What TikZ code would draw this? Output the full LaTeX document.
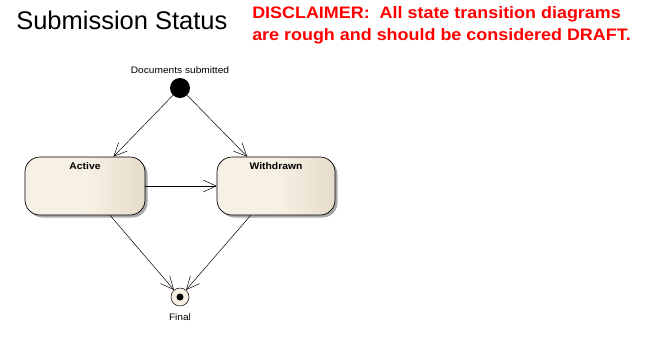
\documentclass[tikz,border=0pt]{standalone}
\usepackage{fontspec}
\setmainfont{Liberation Sans}
\newfontfamily\widesans{Liberation Sans}[FakeStretch=1.08]
\usetikzlibrary{arrows.meta,positioning,shadows}

\definecolor{cream}{HTML}{F7F0E4}
\definecolor{creamdark}{HTML}{E6DCCB}
\definecolor{shadowgrey}{HTML}{A8A8A8}

\begin{document}
\begin{tikzpicture}[x=1bp,y=-1bp,on grid,
>={Straight Barb[length=13bp,width=12bp]},line width=0.5bp,
statebox/.style={draw,line width=0.7bp,rounded corners=15bp,
    minimum width=120bp,inner sep=4bp,text height=8bp,text depth=42bp,
    left color=cream,right color=creamdark,middle color=cream,
    drop shadow={shadow xshift=2.5bp,shadow yshift=-2.5bp,fill=shadowgrey,opacity=1},
    font=\widesans\fontsize{9.6bp}{11bp}\selectfont\bfseries},
initdot/.style={circle,fill=black,minimum size=20bp,inner sep=0pt},
finaldot/.style={circle,draw,fill=cream,minimum size=18bp,inner sep=0pt,
    path picture={\fill[black] (path picture bounding box.center) circle (3.5bp);}},
small/.style={font=\widesans\fontsize{9.4bp}{11bp}\selectfont}]

\useasboundingbox (0,0) rectangle (658,340);

\node[anchor=base west,inner sep=0pt,font=\fontsize{25.5bp}{30bp}\selectfont]
    (title) at (16,29) {Submission Status};
\node[anchor=north west,inner sep=0pt,align=left,text=red,
    font=\widesans\fontsize{16.6bp}{22bp}\selectfont\bfseries]
    (note) at (252,6) {DISCLAIMER:\ \ All state transition diagrams\\
    are rough and should be considered DRAFT.};

\node[initdot,label={[small,label distance=0.5bp]above:Documents submitted}]
    (start) at (180,88) {};
\node[statebox](active) [below left=98bp and 95bp of start] {Active};
\node[statebox,minimum width=118bp](withdrawn) [right=191bp of active] {Withdrawn};
\node[finaldot,label={[small,label distance=4bp]below:Final}]
    (final) [below=209bp of start] {};

\path[->]
    (start) edge (active)
            edge (withdrawn)
    (active) edge (withdrawn)
             edge (final)
    (withdrawn) edge (final)
    ;

\end{tikzpicture}
\end{document}
